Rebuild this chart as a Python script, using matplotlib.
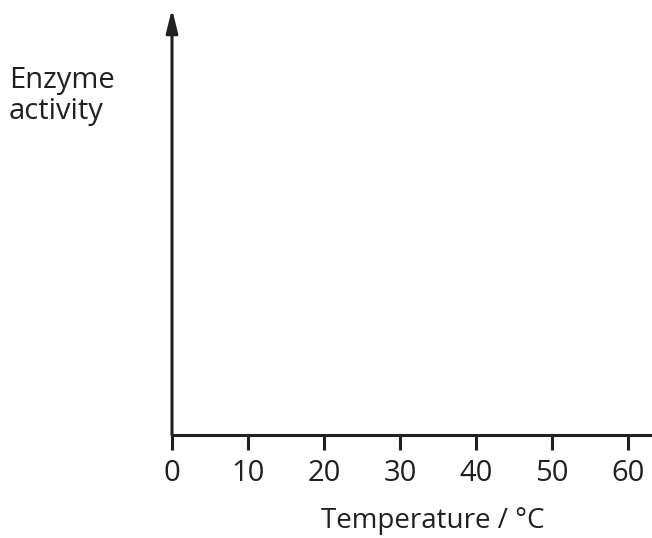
import matplotlib.pyplot as plt

# axis data
x_ticks = [0, 10, 20, 30, 40, 50, 60]
x_label = "Temperature / °C"
y_label = "Enzyme\nactivity"

plt.rcParams['font.family'] = ['Open Sans', 'DejaVu Sans']

W, H = 652, 538
fig = plt.figure(figsize=(W / 100, H / 100), dpi=100)

# axes box in pixels: y-axis at x=172, x-axis at y=435, arrow tip near y=10
left, right, bottom, top = 172, 652, 435, 9
ax = fig.add_axes([left / W, (H - bottom) / H, (right - left) / W, (bottom - top) / H])
ax.set_xlim(0, (right - left) / 76 * 10)
ax.set_ylim(0, 1)

for s in ['top', 'right', 'left']:
    ax.spines[s].set_visible(False)
ax.spines['bottom'].set_linewidth(2.2)
ax.spines['bottom'].set_color('#231f20')

ax.set_xticks(x_ticks)
ax.set_xticklabels([str(t) for t in x_ticks], fontsize=21, color='#231f20')
ax.tick_params(axis='x', direction='out', length=10.5, width=2.2, color='#231f20', pad=7)
ax.set_yticks([])

# y-axis with arrowhead
ax.annotate('', xy=(0, 1), xytext=(0, 0), xycoords='axes fraction',
            arrowprops=dict(arrowstyle='-|>,head_length=1.4,head_width=0.35',
                            lw=2.2, color='#231f20', shrinkA=0, shrinkB=0))

fig.text(9 / W, 1 - 96 / H, y_label, fontsize=21, color='#231f20',
         ha='left', va='center', linespacing=1.1)
fig.text(433 / W, 1 - 521 / H, x_label, fontsize=20, color='#231f20',
         ha='center', va='center')

fig.savefig('out.png', dpi=100)
